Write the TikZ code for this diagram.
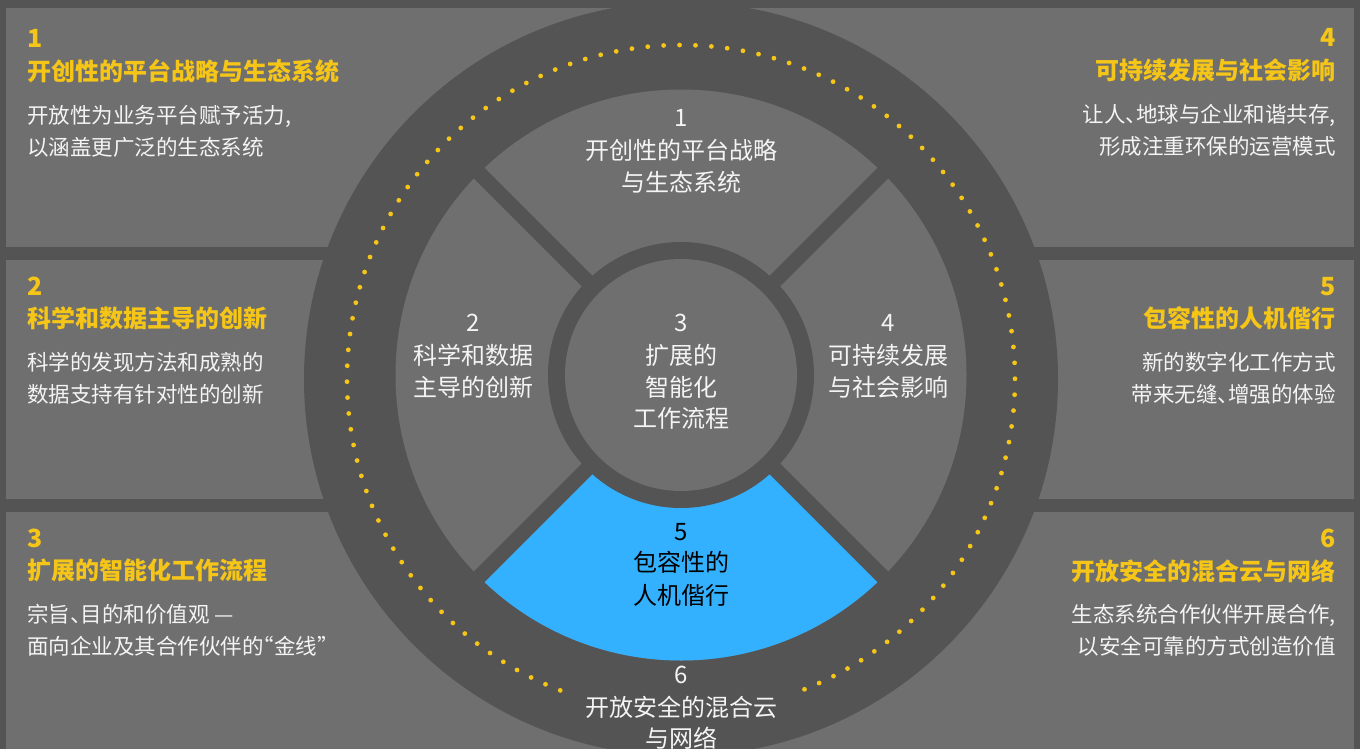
\documentclass[tikz,border=0pt]{standalone}
\usepackage{fontspec}
\setmainfont{Noto Sans CJK SC}
\definecolor{bgdark}{HTML}{545454}
\definecolor{panel}{HTML}{6F6F6F}
\definecolor{skyblue}{HTML}{33B1FF}
\definecolor{gold}{HTML}{F5C518}
\definecolor{txtw}{HTML}{F4F4F4}
\newcommand{\hwdun}{\makebox[0.5em][l]{、}}
\newcommand{\hwlq}{\makebox[0.5em][r]{“}}
\newcommand{\hwrq}{\makebox[0.5em][l]{”}}
\tikzset{
  numl/.style={anchor=base west, inner sep=0pt, text=gold, font=\fontsize{25}{25}\selectfont\bfseries},
  headl/.style={anchor=base west, inner sep=0pt, text=gold, font=\fontsize{24}{24}\selectfont\bfseries},
  bodyl/.style={anchor=base west, inner sep=0pt, text=txtw, font=\fontsize{21.5}{21.5}\selectfont},
  numr/.style={numl, anchor=base east},
  headr/.style={headl, anchor=base east},
  bodyr/.style={bodyl, anchor=base east},
  ringtxt/.style={anchor=base, inner sep=0pt, text=txtw, font=\fontsize{24}{24}\selectfont},
  bluetxt/.style={ringtxt, text=black},
  spoke/.style={bgdark, line width=15pt, line cap=butt},
}
\begin{document}
\begin{tikzpicture}[x=1pt,y=-1pt]
\useasboundingbox (0,0) rectangle (1360,749);
% background and panels
\fill[bgdark] (0,0) rectangle (1360,749);
\fill[panel] (6,8) rectangle (1354,247);
\fill[panel] (6,260) rectangle (1354,499);
\fill[panel] (6,512) rectangle (1354,749);
% wheel
\coordinate (c) at (681,375);
\coordinate (co) at (681,379);
\fill[bgdark] (co) circle (377pt);
\fill[panel] (c) circle (285.5pt);
\fill[skyblue] (c) -- +(225:285.5pt) arc[start angle=225, end angle=315, radius=285.5pt] -- cycle;
\foreach \a in {45,135,225,315}{\draw[spoke] (c) -- +(\a:300pt);}
\fill[bgdark] (c) circle (133pt);
\fill[panel] (c) circle (116pt);
% dotted ring
\foreach \i in {0,...,116}{\fill[gold] (co) ++({291.7+\i*2.7336}:334pt) circle (2.4pt);}
% left panels
\node[numl] (n1) at (27,48) {1};
\node[headl] (h1) at (27,81) {开创性的平台战略与生态系统};
\node[bodyl] (b1a) at (27,124) {开放性为业务平台赋予活力,};
\node[bodyl] (b1b) at (27,156) {以涵盖更广泛的生态系统};
\node[numl] (n2) at (27,295) {2};
\node[headl] (h2) at (27,327.5) {科学和数据主导的创新};
\node[bodyl] (b2a) at (27,370.5) {科学的发现方法和成熟的};
\node[bodyl] (b2b) at (27,402.5) {数据支持有针对性的创新};
\node[numl] (n3) at (27,547) {3};
\node[headl] (h3) at (27,579.5) {扩展的智能化工作流程};
\node[bodyl] (b3a) at (27,622.5) {宗旨\hwdun 目的和价值观 —};
\node[bodyl] (b3b) at (27,654) {面向企业及其合作伙伴的\hwlq 金线\hwrq};
% right panels
\node[numr] (n4) at (1336,47) {4};
\node[headr] (h4) at (1336,80) {可持续发展与社会影响};
\node[bodyr] (b4a) at (1336,122.5) {让人\hwdun 地球与企业和谐共存,};
\node[bodyr] (b4b) at (1336,154) {形成注重环保的运营模式};
\node[numr] (n5) at (1336,295) {5};
\node[headr] (h5) at (1336,327) {包容性的人机偕行};
\node[bodyr] (b5a) at (1336,370.5) {新的数字化工作方式};
\node[bodyr] (b5b) at (1336,402.5) {带来无缝\hwdun 增强的体验};
\node[numr] (n6) at (1336,547) {6};
\node[headr] (h6) at (1336,580) {开放安全的混合云与网络};
\node[bodyr] (b6a) at (1336,622.5) {生态系统合作伙伴开展合作,};
\node[bodyr] (b6b) at (1336,654) {以安全可靠的方式创造价值};
% wheel texts
\node[ringtxt] (s1n) at (681,126.5) {1};
\node[ringtxt] (s1a) at (681,159.5) {开创性的平台战略};
\node[ringtxt] (s1b) at (681,191) {与生态系统};
\node[ringtxt] (s2n) at (473.5,331.5) {2};
\node[ringtxt] (s2a) at (473.5,364) {科学和数据};
\node[ringtxt] (s2b) at (473.5,396) {主导的创新};
\node[ringtxt] (s3n) at (681,331.5) {3};
\node[ringtxt] (s3a) at (681,364) {扩展的};
\node[ringtxt] (s3b) at (681,396) {智能化};
\node[ringtxt] (s3c) at (681,427.5) {工作流程};
\node[ringtxt] (s4n) at (888.5,331.5) {4};
\node[ringtxt] (s4a) at (888.5,364) {可持续发展};
\node[ringtxt] (s4b) at (888.5,396) {与社会影响};
\node[bluetxt] (s5n) at (681,540) {5};
\node[bluetxt] (s5a) at (681,571.5) {包容性的};
\node[bluetxt] (s5b) at (681,604) {人机偕行};
\node[ringtxt] (s6n) at (681,683) {6};
\node[ringtxt] (s6a) at (681,716) {开放安全的混合云};
\node[ringtxt] (s6b) at (681,747.5) {与网络};
\end{tikzpicture}
\end{document}
